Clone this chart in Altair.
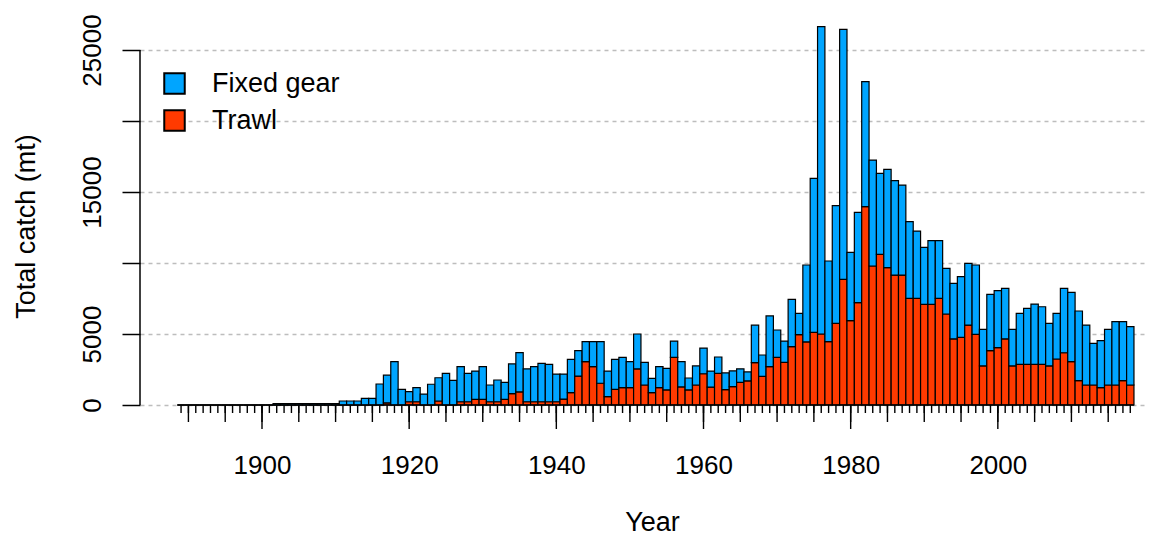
import altair as alt
import pandas as pd

# ---------------- data ----------------
years = list(range(1889, 2019))

fixed_gear = [
    0, 0, 0, 0, 0, 0, 0, 0, 0, 0,                              # 1889-1898
    0, 0, 0, 100, 100, 100, 100, 100, 100, 100,                # 1899-1908
    100, 100, 280, 280, 280, 470, 470, 1480, 1950, 3050,       # 1909-1918
    1100, 710, 990, 770, 1460, 1640, 2230, 1740, 2470, 2000,   # 1919-1928
    1990, 2300, 1180, 1530, 1200, 2090, 2770, 2310, 2470, 2700,  # 1929-1938
    2630, 1950, 1760, 2350, 1790, 1410, 1760, 2930, 1800, 2120,  # 1939-1948
    2140, 1830, 2460, 1590, 1010, 1480, 1520, 1140, 1780, 840,   # 1949-1958
    1340, 1810, 1130, 1150, 1180, 1100, 960, 630, 2630, 1500,    # 1959-1968
    3570, 1920, 1500, 3330, 1500, 5420, 10840, 21640, 5680, 8290,  # 1969-1978
    17600, 4810, 6360, 8800, 7460, 5700, 6920, 6650, 6340, 5400,   # 1979-1988
    4740, 4010, 4480, 4060, 3210, 3920, 4280, 4340, 4880, 2580,    # 1989-1998
    3960, 4010, 3560, 2580, 3590, 3950, 4250, 4060, 3000, 3210,    # 1999-2008
    4530, 4880, 4910, 4220, 2930, 3310, 3920, 4460, 4160, 4110,    # 2009-2018
]

trawl = [
    0, 0, 0, 0, 0, 0, 0, 0, 0, 0,                              # 1889-1898
    0, 0, 0, 0, 0, 0, 0, 0, 0, 0,                              # 1899-1908
    0, 0, 0, 0, 0, 0, 0, 0, 150, 0,                            # 1909-1918
    0, 230, 230, 0, 0, 280, 0, 0, 230, 230,                    # 1919-1928
    400, 400, 230, 230, 400, 800, 920, 230, 230, 230,          # 1929-1938
    230, 230, 420, 870, 2040, 3050, 2700, 1530, 590, 1100,     # 1939-1948
    1220, 1220, 2540, 1410, 870, 1220, 1060, 3360, 1270, 1060,  # 1949-1958
    1410, 2200, 1260, 2230, 1080, 1300, 1590, 1700, 2990, 2020,  # 1959-1968
    2700, 3360, 3000, 4110, 4950, 4440, 5120, 5000, 4460, 5750,  # 1969-1978
    8850, 5940, 7210, 13970, 9790, 10610, 9670, 9150, 9150, 7510,  # 1979-1988
    7510, 7090, 7090, 7510, 6410, 4650, 4760, 5630, 4980, 2750,    # 1989-1998
    3830, 4040, 4650, 2750, 2860, 2860, 2860, 2860, 2750, 3240,    # 1999-2008
    3680, 3050, 1710, 1410, 1410, 1220, 1410, 1410, 1710, 1410,    # 2009-2018
]

series_names = ["Fixed gear", "Trawl"]
series_colors = ["#00A5FF", "#FF3A00"]
y_tick_values = [0, 5000, 10000, 15000, 20000, 25000]
y_label_values = [0, 5000, 15000, 25000]   # the labels that are printed
x_label_values = [1900, 1920, 1940, 1960, 1980, 2000]

assert len(years) == len(fixed_gear) == len(trawl)

# ---------------- tables ----------------
rows = []
for yr, f, t in zip(years, fixed_gear, trawl):
    rows.append({"year": yr, "series": "Trawl", "lo": 0, "hi": t})
    rows.append({"year": yr, "series": "Fixed gear", "lo": t, "hi": t + f})
bars_df = pd.DataFrame(rows)
years_df = pd.DataFrame({"year": years})
yticks_df = pd.DataFrame({"v": y_tick_values})

W, H = 1005, 385
FONT = "Liberation Sans"
xscale = alt.Scale(domain=[1883.42, 2020.0], nice=False, zero=False)
yscale = alt.Scale(domain=[0, 27113], nice=False, zero=False)

shown = ",".join(str(v) for v in y_label_values)

x_axis = alt.Axis(
    values=x_label_values, format="d", ticks=False, tickSize=0, domain=False,
    grid=False, labelFontSize=26, labelPadding=68, labelBaseline="alphabetic",
    labelFlush=False, labelOverlap=False, labelColor="black", labelFont=FONT,
    title="Year", titleFontSize=27, titleFontWeight="normal", titleFont=FONT,
    titleColor="black", titleX=512, titleY=125, titleAlign="center",
    titleBaseline="alphabetic",
)
y_axis = alt.Axis(
    values=y_tick_values, format="d", tickSize=18, tickWidth=1.5,
    tickColor="black", domain=False, grid=True, gridDash=[4, 4],
    gridColor="#BDBDBD", gridWidth=1.3, labelAngle=270, labelAlign="center",
    labelBaseline="alphabetic", labelPadding=22, labelFontSize=26,
    labelExpr=f"indexof([{shown}], datum.value) >= 0 ? datum.label : ''",
    labelOverlap=False, labelFlush=False, labelColor="black", labelFont=FONT,
    title="Total catch (mt)", titleFontSize=27, titleFontWeight="normal",
    titleFont=FONT, titleColor="black", titleAngle=270, titleX=-106,
    titleY=206, titleAlign="center", titleBaseline="alphabetic",
)

bars = alt.Chart(bars_df).transform_calculate(
    left="datum.year - 0.5", right="datum.year + 0.5"
).mark_bar(stroke="black", strokeWidth=1.2, opacity=1).encode(
    x=alt.X("left:Q", scale=xscale, axis=x_axis),
    x2="right:Q",
    y=alt.Y("lo:Q", scale=yscale, axis=y_axis),
    y2="hi:Q",
    color=alt.Color(
        "series:N",
        scale=alt.Scale(domain=series_names, range=series_colors),
        legend=alt.Legend(
            title=None, orient="none", legendX=21, legendY=50,
            symbolType="square", symbolSize=420, symbolStrokeColor="black",
            symbolStrokeWidth=2, symbolOpacity=1, labelFontSize=27,
            labelFont=FONT, labelColor="black", labelOffset=24,
            rowPadding=8, padding=0,
        ),
    ),
)

# x baseline (zero-height bar outlines)
base_rule = alt.Chart(years_df).transform_aggregate(
    a="min(year)", b="max(year)"
).transform_calculate(
    lo="datum.a - 0.5", hi="datum.b + 0.5", zero="0"
).mark_rule(color="black", strokeWidth=1.5).encode(
    x=alt.X("lo:Q", scale=xscale, axis=x_axis),
    x2="hi:Q",
    y=alt.Y("zero:Q", scale=yscale, axis=y_axis),
)

# y axis line from first to last tick
y_line = alt.Chart(yticks_df).transform_aggregate(
    lo="min(v)", hi="max(v)"
).mark_rule(color="black", strokeWidth=1.5).encode(
    x=alt.value(0),
    y=alt.Y("lo:Q", scale=yscale, axis=y_axis),
    y2="hi:Q",
)


def tick_layer(step, length):
    return alt.Chart(years_df).transform_filter(
        f"datum.year % {step} == 0"
    ).transform_calculate(zero="0").mark_rule(
        color="black", strokeWidth=1.4
    ).encode(
        x=alt.X("year:Q", scale=xscale, axis=x_axis),
        y=alt.Y("zero:Q", scale=yscale, axis=y_axis),
        y2=alt.value(H + length),
    )


chart = alt.layer(
    bars, base_rule, y_line,
    tick_layer(1, 8), tick_layer(5, 17), tick_layer(20, 24),
).properties(
    width=W, height=H,
    autosize=alt.AutoSizeParams(type="none"),
    padding={"left": 132, "top": 12, "right": 10, "bottom": 132},
    background="white",
).configure(font=FONT).configure_view(stroke="transparent", strokeWidth=0)

chart.save("out.html", embed_options={"renderer": "svg", "actions": False})
